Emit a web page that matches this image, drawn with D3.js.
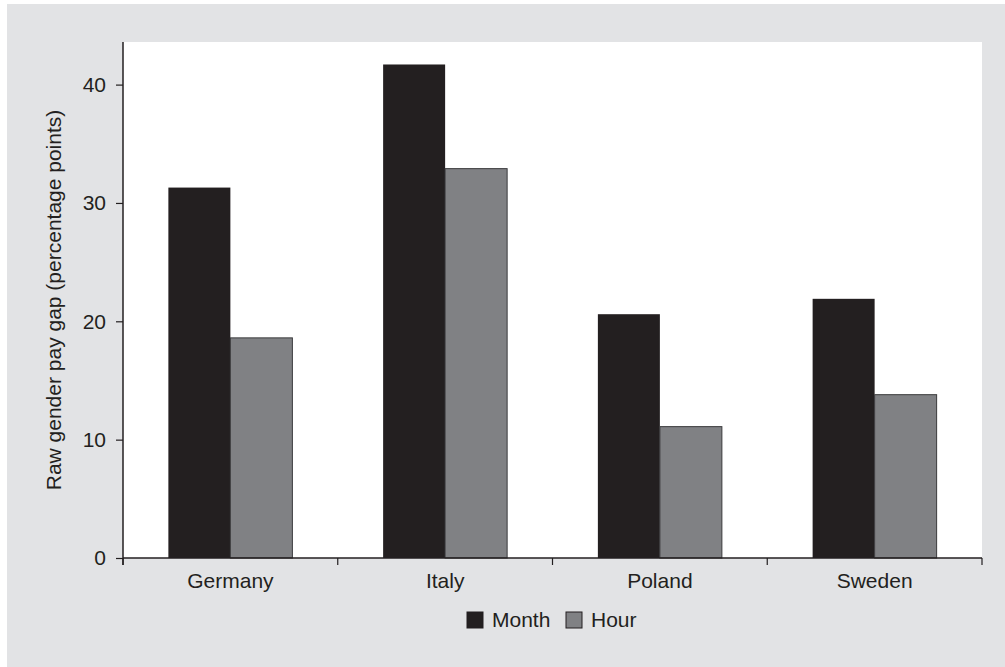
<!DOCTYPE html>
<html><head><meta charset="utf-8">
<script src="https://cdn.jsdelivr.net/npm/d3@7"></script>
<style>body{margin:0;background:#fff}svg{display:block}text{font-family:"Liberation Sans",Arial,sans-serif;fill:#231f20}</style>
</head><body>
<svg id="c" width="1005" height="667"></svg>
<script>
const categories = ["Germany", "Italy", "Poland", "Sweden"];
const seriesNames = ["Month", "Hour"];
const monthValues = [31.3, 41.7, 20.6, 21.9];
const hourValues = [18.6, 32.9, 11.1, 13.8];
const yTicks = [0, 10, 20, 30, 40];
const colors = ["#231f20", "#808184"];
const FS = 21;

const svg = d3.select("#c");
svg.append("rect").attr("x", 7).attr("y", 4).attr("width", 998).attr("height", 663).attr("fill", "#e2e3e5");

const L = 123, R = 982, T = 42, B = 558;
svg.append("rect").attr("x", L).attr("y", T).attr("width", R - L).attr("height", B - T).attr("fill", "#fff");

const x = d3.scaleBand().domain(categories).range([L, R]).paddingInner(0).paddingOuter(0);
const x1 = d3.scaleBand().domain(seriesNames).range([0, 124]);
const y = d3.scaleLinear().domain([0, 43.6]).range([B, T]);

const data = categories.map((c, i) => ({c, vals: [monthValues[i], hourValues[i]]}));
const g = svg.append("g");
data.forEach(d => {
  const off = x(d.c) + (x.bandwidth() - 124) / 2;
  seriesNames.forEach((s, j) => {
    g.append("rect")
      .attr("x", off + x1(s))
      .attr("y", y(d.vals[j]))
      .attr("width", x1.bandwidth())
      .attr("height", y(0) - y(d.vals[j]))
      .attr("fill", colors[j])
      .attr("stroke", j === 1 ? "#3a3a3c" : "none")
      .attr("stroke-width", j === 1 ? 1 : 0);
  });
});

// axes
const yAxis = d3.axisLeft(y).tickValues(yTicks).tickSize(7).tickPadding(10);
const ya = svg.append("g").attr("transform", `translate(${L},0)`).call(yAxis);
ya.attr("font-size", null).attr("font-family", null);
ya.select(".domain").remove();
ya.selectAll("line").attr("stroke", "#231f20").attr("stroke-width", 1.2);
ya.selectAll("text").style("font-size", FS + "px").attr("fill", "#231f20");
svg.append("line").attr("x1", L).attr("x2", L).attr("y1", T).attr("y2", B + 7).attr("stroke", "#231f20").attr("stroke-width", 1.5);

const xa = svg.append("g").attr("transform", `translate(0,${B})`)
  .call(d3.axisBottom(x).tickSize(0).tickPadding(15));
xa.attr("font-size", null).attr("font-family", null);
xa.select(".domain").remove();
xa.selectAll("text").style("font-size", FS + "px").attr("fill", "#231f20");
svg.append("line").attr("x1", L).attr("x2", R).attr("y1", B).attr("y2", B).attr("stroke", "#231f20").attr("stroke-width", 1.5);
const bounds = categories.map(c => x(c)).concat([x(categories[categories.length - 1]) + x.bandwidth()]);
svg.selectAll(".sep").data(bounds).enter().append("line")
  .attr("x1", d => d).attr("x2", d => d).attr("y1", B).attr("y2", B + 7)
  .attr("stroke", "#231f20").attr("stroke-width", 1.2);

svg.append("text").attr("transform", `translate(61,${(T + B) / 2}) rotate(-90)`)
  .attr("text-anchor", "middle").style("font-size", FS + "px")
  .text("Raw gender pay gap (percentage points)");

// legend
const lg = svg.append("g");
const legX = [467, 566];
seriesNames.forEach((s, j) => {
  lg.append("rect").attr("x", legX[j]).attr("y", 612).attr("width", 16).attr("height", 16)
    .attr("fill", colors[j]).attr("stroke", "#231f20").attr("stroke-width", 1);
  lg.append("text").attr("x", legX[j] + 25).attr("y", 627).style("font-size", FS + "px").text(s);
});
</script>
</body></html>
